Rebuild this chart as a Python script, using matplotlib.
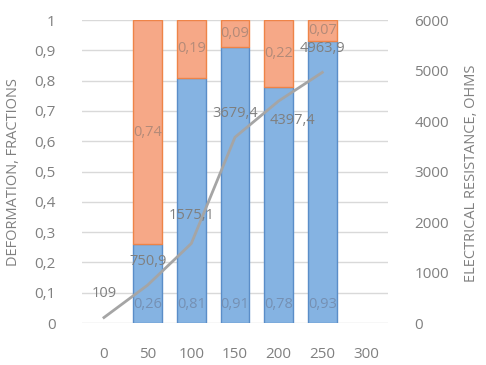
import matplotlib
matplotlib.use("Agg")
import matplotlib.pyplot as plt
import numpy as np

# --- data ---
categories = ["0", "50", "100", "150", "200", "250", "300"]
bar_idx = [1, 2, 3, 4, 5]                      # categories that carry bars
elastic = [0.26, 0.81, 0.91, 0.78, 0.93]       # blue, bottom part
plastic = [0.74, 0.19, 0.09, 0.22, 0.07]       # orange, top part
line_idx = [0, 1, 2, 3, 4, 5]
resistance = [109, 750.9, 1575.1, 3679.4, 4397.4, 4963.9]

# label offsets for the line labels (points)
line_lbl_off = [(0, 17), (0, 17), (0, 20), (0, 17), (10, -14), (0, 17)]

plt.rcParams['font.family'] = ['Open Sans', 'DejaVu Sans']
TXT = '#808080'
BLUE = '#85b3e2'
BLUE_EDGE = '#5a8dc8'
ORANGE = '#f6a887'
ORANGE_EDGE = '#ee8448'

fig = plt.figure(figsize=(4.86, 3.65), dpi=100)
ax = fig.add_axes([0.169, 0.115, 0.629, 0.830])

b1 = ax.bar(bar_idx, elastic, width=0.66, color=BLUE, edgecolor=BLUE_EDGE,
            linewidth=1, zorder=2)
b2 = ax.bar(bar_idx, plastic, width=0.66, bottom=elastic, color=ORANGE,
            edgecolor=ORANGE_EDGE, linewidth=1, zorder=2)

for x, v in zip(bar_idx, elastic):
    ax.text(x, 0.06, f"{v:.2f}".replace('.', ','), ha='center', va='center',
            color='#7590b3', fontsize=10.5, zorder=5)
ax.bar_label(b2, labels=[f"{v:.2f}".replace('.', ',') for v in plastic],
             label_type='center', color='#b38a78', fontsize=10.5, zorder=5)

ax.set_xlim(-0.5, 6.5)
ax.set_ylim(0, 1)
ax.set_yticks(np.arange(0, 1.01, 0.1))
ax.set_yticklabels(["0"] + [f"{v:.1f}".replace('.', ',') for v in np.arange(0.1, 0.95, 0.1)] + ["1"])
ax.set_xticks(range(len(categories)))
ax.set_xticklabels(categories)
ax.grid(axis='y', color='#d9d9d9', linewidth=1, zorder=0)
ax.set_axisbelow(True)
for s in ax.spines.values():
    s.set_visible(False)
ax.tick_params(axis='y', length=0, pad=19, labelsize=11, labelcolor=TXT)
ax.tick_params(axis='x', length=0, pad=17, labelsize=11, labelcolor=TXT)

ax2 = ax.twinx()
ax2.plot(line_idx, resistance, color='#a5a5a5', linewidth=2, zorder=3)
for x, v, off in zip(line_idx, resistance, line_lbl_off):
    lbl = f"{v:.1f}".replace('.', ',') if v % 1 else f"{int(v)}"
    ax2.annotate(lbl, (x, v), xytext=off, textcoords='offset points',
                 ha='center', va='center', color='#7f7f7f', fontsize=10.5,
                 zorder=6)
ax2.set_ylim(0, 6000)
ax2.set_yticks(range(0, 6001, 1000))
for s in ax2.spines.values():
    s.set_visible(False)
ax2.tick_params(axis='y', length=0, pad=19, labelsize=11, labelcolor=TXT)

# axis titles
fig.text(14 / 486, 1 - 172 / 365, "DEFORMATION, FRACTIONS", rotation=90,
         ha='center', va='center', color=TXT, fontsize=10.5)
fig.text(471 / 486, 1 - 173 / 365, "ELECTRICAL RESISTANCE, OHMS", rotation=90,
         ha='center', va='center', color=TXT, fontsize=10.5)

fig.savefig("out.png", dpi=100)
